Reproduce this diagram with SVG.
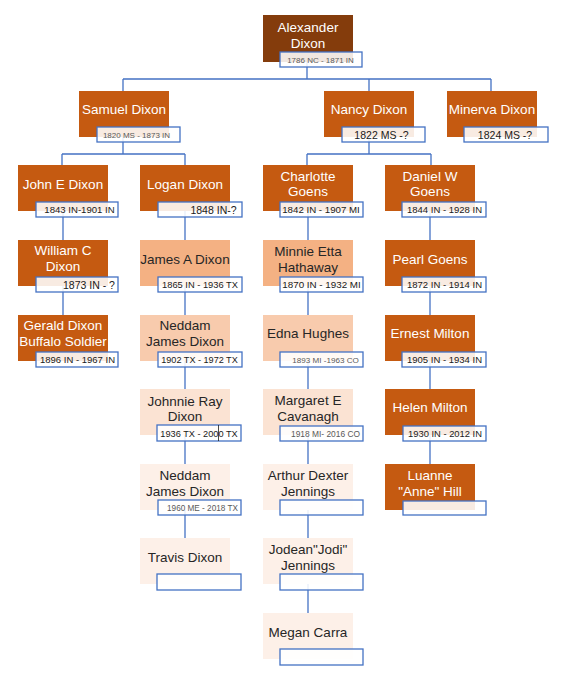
<svg xmlns="http://www.w3.org/2000/svg" width="562" height="678" viewBox="0 0 562 678">
<style>
.box{stroke:none}
.c0{fill:#843C0C}.c1{fill:#C55A11}.c2{fill:#F4B183}.c3{fill:#F8CBAD}.c4{fill:#FBE3D3}.c5{fill:#FDF0E8}
.date{fill:#FFFFFF;fill-opacity:0.88;stroke:#4472C4;stroke-width:1.3}
.nm{font-family:"Liberation Sans",Arial,sans-serif;font-size:13.5px;text-anchor:middle}
.w{fill:#FFFFFF}.k{fill:#262626}
.dt{font-family:"Liberation Sans",Arial,sans-serif;text-anchor:middle;fill:#1a1a1a}
.g{fill:#595959}
.conn{stroke:#4472C4;stroke-width:1.3;fill:none}
</style>
<rect width="562" height="678" fill="#FFFFFF"/>
<g id="connectors">
<path class="conn" d="M307 62V79M123 79H491M123 79V91M369 79V91M491 79V91"/>
<path class="conn" d="M123 137V154M62 154H185M62 154V165M185 154V165"/>
<path class="conn" d="M369 137V154M307 154H431M307 154V165M431 154V165"/>
<path class="conn" d="M63 211V315"/>
<path class="conn" d="M185 211V538"/>
<path class="conn" d="M308 211V613"/>
<path class="conn" d="M430 211V464"/>
</g>
<g id="alexander"><rect class="box c0" x="263" y="15" width="90" height="47"/><text class="nm w" x="308" y="32">Alexander</text><text class="nm w" x="308" y="48">Dixon</text><rect class="date" x="280" y="52" width="82" height="15"/><text class="dt g" x="320.5" y="63" font-size="8">1786 NC - 1871 IN</text></g>
<g id="samuel"><rect class="box c1" x="79" y="91" width="90" height="46"/><text class="nm w" x="124" y="114">Samuel Dixon</text><rect class="date" x="97" y="127" width="83" height="15"/><text class="dt g" x="136.5" y="138" font-size="8">1820 MS - 1873 IN</text></g>
<g id="nancy"><rect class="box c1" x="324" y="91" width="90" height="46"/><text class="nm w" x="369" y="114">Nancy Dixon</text><rect class="date" x="342" y="127" width="83" height="15"/><text class="dt" x="381.5" y="138.5" font-size="10.5">1822 MS -?</text></g>
<g id="minerva"><rect class="box c1" x="447" y="91" width="90" height="46"/><text class="nm w" x="492" y="114">Minerva Dixon</text><rect class="date" x="464" y="127" width="84" height="15"/><text class="dt" x="505" y="138.5" font-size="10.5">1824 MS -?</text></g>
<g id="john"><rect class="box c1" x="18" y="165" width="90" height="46"/><text class="nm w" x="63" y="189">John E Dixon</text><rect class="date" x="36" y="202" width="82" height="15"/><text class="dt" x="79.5" y="213" font-size="9.6">1843 IN-1901 IN</text></g>
<g id="logan"><rect class="box c1" x="140" y="165" width="90" height="46"/><text class="nm w" x="185" y="189">Logan Dixon</text><rect class="date" x="158" y="202" width="84" height="15"/><text class="dt" x="213.5" y="213.5" font-size="10.5">1848 IN-?</text></g>
<g id="charlotte"><rect class="box c1" x="263" y="165" width="90" height="46"/><text class="nm w" x="308" y="181">Charlotte</text><text class="nm w" x="308" y="196">Goens</text><rect class="date" x="280" y="202" width="83" height="15"/><text class="dt" x="321" y="213" font-size="9.7">1842 IN - 1907 MI</text></g>
<g id="daniel"><rect class="box c1" x="385" y="165" width="90" height="46"/><text class="nm w" x="430" y="181">Daniel W</text><text class="nm w" x="430" y="196">Goens</text><rect class="date" x="402" y="202" width="84" height="15"/><text class="dt" x="444.5" y="213" font-size="9.5">1844 IN - 1928 IN</text></g>
<g id="william"><rect class="box c1" x="18" y="240" width="90" height="46"/><text class="nm w" x="63" y="255">William C</text><text class="nm w" x="63" y="271">Dixon</text><rect class="date" x="36" y="277" width="82" height="15"/><text class="dt" x="89" y="288.5" font-size="10.5">1873 IN - ?</text></g>
<g id="jamesa"><rect class="box c2" x="140" y="240" width="90" height="46"/><text class="nm k" x="185" y="264">James A Dixon</text><rect class="date" x="158" y="277" width="84" height="15"/><text class="dt" x="200" y="288" font-size="9.3">1865 IN - 1936 TX</text></g>
<g id="minnie"><rect class="box c2" x="263" y="240" width="90" height="46"/><text class="nm k" x="308" y="256">Minnie Etta</text><text class="nm k" x="308" y="272">Hathaway</text><rect class="date" x="280" y="277" width="83" height="15"/><text class="dt" x="321.5" y="288" font-size="9.8">1870 IN - 1932 MI</text></g>
<g id="pearl"><rect class="box c1" x="385" y="240" width="90" height="46"/><text class="nm w" x="430" y="264">Pearl Goens</text><rect class="date" x="402" y="277" width="84" height="15"/><text class="dt" x="444.5" y="288" font-size="9.5">1872 IN - 1914 IN</text></g>
<g id="gerald"><rect class="box c1" x="18" y="315" width="90" height="46"/><text class="nm w" x="63" y="330">Gerald Dixon</text><text class="nm w" x="63" y="346">Buffalo Soldier</text><rect class="date" x="36" y="352" width="82" height="15"/><text class="dt" x="77.5" y="363" font-size="9.5">1896 IN - 1967 IN</text></g>
<g id="neddam1"><rect class="box c3" x="140" y="315" width="90" height="46"/><text class="nm k" x="185" y="330">Neddam</text><text class="nm k" x="185" y="346">James Dixon</text><rect class="date" x="158" y="352" width="84" height="15"/><text class="dt" x="199.5" y="363" font-size="9.1">1902 TX - 1972 TX</text></g>
<g id="edna"><rect class="box c3" x="263" y="315" width="90" height="46"/><text class="nm k" x="308" y="338">Edna Hughes</text><rect class="date" x="280" y="352" width="83" height="15"/><text class="dt g" x="325.5" y="363" font-size="8.1">1893 MI -1963 CO</text></g>
<g id="ernest"><rect class="box c1" x="385" y="315" width="90" height="46"/><text class="nm w" x="430" y="338">Ernest Milton</text><rect class="date" x="402" y="352" width="84" height="15"/><text class="dt" x="444.5" y="363" font-size="9.5">1905 IN - 1934 IN</text></g>
<g id="johnnie"><rect class="box c4" x="140" y="389" width="90" height="46"/><text class="nm k" x="185" y="406">Johnnie Ray</text><text class="nm k" x="185" y="421">Dixon</text><rect class="date" x="157" y="425" width="84" height="16"/><text class="dt" x="199" y="437" font-size="9.2">1936 TX - 2000 TX</text><line x1="218.5" y1="425" x2="218.5" y2="441" stroke="#1a1a1a" stroke-width="0.8"/></g>
<g id="margaret"><rect class="box c4" x="263" y="389" width="90" height="46"/><text class="nm k" x="308" y="405">Margaret E</text><text class="nm k" x="308" y="421">Cavanagh</text><rect class="date" x="280" y="426" width="83" height="15"/><text class="dt g" x="325.5" y="437" font-size="8.4">1918 MI- 2016 CO</text></g>
<g id="helen"><rect class="box c1" x="385" y="389" width="90" height="46"/><text class="nm w" x="430" y="412">Helen Milton</text><rect class="date" x="403" y="426" width="83" height="15"/><text class="dt" x="445" y="437" font-size="9.4">1930 IN - 2012 IN</text></g>
<g id="neddam2"><rect class="box c5" x="140" y="464" width="90" height="46"/><text class="nm k" x="185" y="480">Neddam</text><text class="nm k" x="185" y="496">James Dixon</text><rect class="date" x="158" y="500" width="83" height="15"/><text class="dt g" x="202.5" y="511" font-size="8.2">1960 ME - 2018 TX</text></g>
<g id="arthur"><rect class="box c5" x="263" y="464" width="90" height="46"/><text class="nm k" x="308" y="480">Arthur Dexter</text><text class="nm k" x="308" y="496">Jennings</text><rect class="date" x="280" y="500" width="83" height="15"/></g>
<g id="luanne"><rect class="box c1" x="385" y="464" width="90" height="46"/><text class="nm w" x="430" y="480">Luanne</text><text class="nm w" x="430" y="496">"Anne" Hill</text><rect class="date" x="403" y="501" width="83" height="14"/></g>
<g id="travis"><rect class="box c5" x="140" y="538" width="90" height="46"/><text class="nm k" x="185" y="562">Travis Dixon</text><rect class="date" x="157" y="574" width="84" height="16"/></g>
<g id="jodean"><rect class="box c5" x="263" y="538" width="90" height="46"/><text class="nm k" x="308" y="554">Jodean"Jodi"</text><text class="nm k" x="308" y="570">Jennings</text><rect class="date" x="280" y="574" width="83" height="16"/></g>
<g id="megan"><rect class="box c5" x="263" y="613" width="90" height="46"/><text class="nm k" x="308" y="637">Megan Carra</text><rect class="date" x="280" y="649" width="83" height="16"/></g>
</svg>
